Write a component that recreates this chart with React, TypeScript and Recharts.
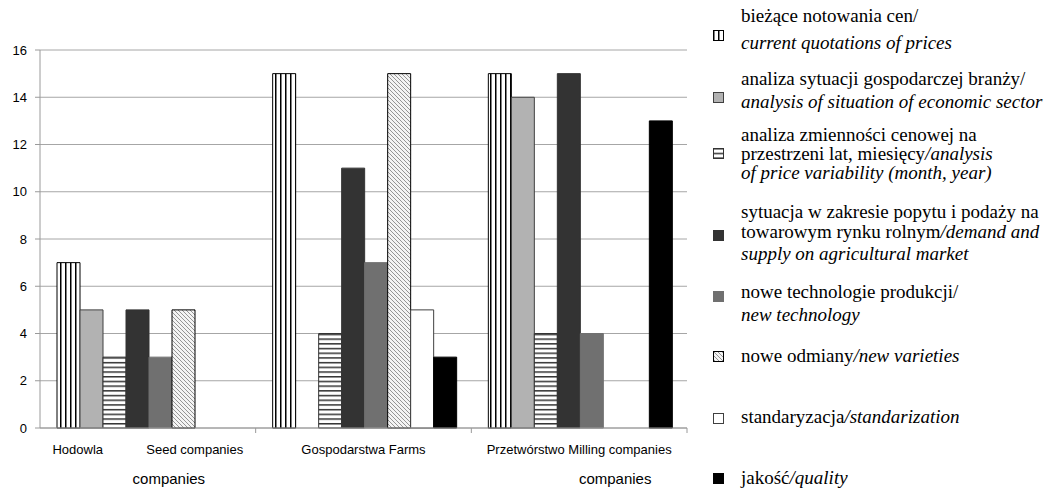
import { BarChart, Bar, XAxis, YAxis, CartesianGrid } from 'recharts';

// categories (tick label lines as printed under the axis)
const categories = ['Hodowla', 'Gospodarstwa', 'Przetwórstwo'];
const tickLine1 = ['Hodowla            Seed companies', 'Gospodarstwa Farms', 'Przetwórstwo Milling companies'];
const tickLine2 = ['companies', '', 'companies'];

// series values per category
const currentQuotations = [7, 15, 15];
const economicSector = [5, 0, 14];
const priceVariability = [3, 4, 4];
const demandSupply = [5, 11, 15];
const newTechnology = [3, 7, 4];
const newVarieties = [5, 15, 0];
const standarization = [0, 5, 0];
const quality = [0, 3, 13];

const yTicks = [0, 2, 4, 6, 8, 10, 12, 14, 16];

type Seg = { t: string; i?: boolean };
const legendLabels: Seg[][][] = [
    [[{ t: 'bieżące notowania cen/' }], [{ t: 'current quotations of prices', i: true }]],
    [[{ t: 'analiza sytuacji gospodarczej branży/' }], [{ t: 'analysis of situation of economic sector', i: true }]],
    [
        [{ t: 'analiza zmienności cenowej na' }],
        [{ t: 'przestrzeni lat, miesięcy' }, { t: '/analysis', i: true }],
        [{ t: 'of price variability (month, year)', i: true }],
    ],
    [
        [{ t: 'sytuacja w zakresie popytu i podaży na' }],
        [{ t: 'towarowym rynku rolnym' }, { t: '/demand and', i: true }],
        [{ t: 'supply on agricultural market', i: true }],
    ],
    [[{ t: 'nowe technologie produkcji/' }], [{ t: 'new technology', i: true }]],
    [[{ t: 'nowe odmiany' }, { t: '/new varieties', i: true }]],
    [[{ t: 'standaryzacja' }, { t: '/standarization', i: true }]],
    [[{ t: 'jakość' }, { t: '/quality', i: true }]],
];

const data = categories.map((cat, i) => ({
    cat,
    s1: currentQuotations[i],
    s2: economicSector[i],
    s3: priceVariability[i],
    s4: demandSupply[i],
    s5: newTechnology[i],
    s6: newVarieties[i],
    s7: standarization[i],
    s8: quality[i],
}));

// look of each series
const seriesStyle = [
    { key: 's1', fill: 'url(#pVert)', stroke: '#000' },
    { key: 's2', fill: '#b2b2b2', stroke: '#404040' },
    { key: 's3', fill: 'url(#pHoriz)', stroke: '#333' },
    { key: 's4', fill: '#333333', stroke: '#333333' },
    { key: 's5', fill: '#707070', stroke: '#707070' },
    { key: 's6', fill: 'url(#pDiag)', stroke: '#000' },
    { key: 's7', fill: '#ffffff', stroke: '#404040' },
    { key: 's8', fill: '#000000', stroke: '#000' },
];

// legend layout (vertical centres of icons and text lines)
const legendIconY = [35, 97, 153, 235, 296, 356, 418, 478];
const legendLineY = [[17, 44], [80, 103], [136, 155, 174], [213, 233, 255], [293, 316], [357], [418], [479]];

const CHART_W = 700;
const CHART_H = 488;
const PLOT_LEFT = 40;
const PLOT_RIGHT = 687;
const PLOT_TOP = 50;
const PLOT_BOTTOM = 428;
const AXIS_GRAY = '#9a9a9a';
const SANS = "'Liberation Sans', Arial, sans-serif";
const SERIF = "'Liberation Serif', 'Times New Roman', Times, serif";

const CategoryTick = ({ x, payload, index }: any) => {
    const bw = (PLOT_RIGHT - PLOT_LEFT) / categories.length;
    const i = index ?? categories.indexOf(payload.value);
    const dx2 = i === 0 ? 21 : 36;
    return (
        <g>
            <line x1={x + bw / 2} x2={x + bw / 2} y1={PLOT_BOTTOM} y2={PLOT_BOTTOM + 5} stroke={AXIS_GRAY} />
            <text x={x} y={454} textAnchor="middle" fontSize={13} fill="#000" style={{ whiteSpace: 'pre' }} fontFamily={SANS}>
                {tickLine1[i]}
            </text>
            {tickLine2[i] && (
                <text x={x + dx2} y={484} textAnchor="middle" fontSize={15} fill="#000" fontFamily={SANS}>
                    {tickLine2[i]}
                </text>
            )}
        </g>
    );
};

export default function App() {
    return (
        <div style={{ position: 'absolute', left: 0, top: 0, width: 1051, height: 488, background: '#fff' }}>
            <BarChart
                width={CHART_W}
                height={CHART_H}
                data={data}
                margin={{ top: PLOT_TOP, right: CHART_W - PLOT_RIGHT, left: 0, bottom: 0 }}
                barCategoryGap={17}
                barGap={0}
            >
                <defs>
                    <pattern id="pVert" width="5" height="10" patternUnits="userSpaceOnUse">
                        <rect width="5" height="10" fill="#fff" />
                        <rect x="0" width="1.5" height="10" fill="#000" />
                    </pattern>
                    <pattern id="pHoriz" width="10" height="4.7" patternUnits="userSpaceOnUse">
                        <rect width="10" height="4.7" fill="#fff" />
                        <rect y="0" width="10" height="1.5" fill="#333" />
                    </pattern>
                    <pattern id="pDiag" width="4" height="4" patternUnits="userSpaceOnUse">
                        <rect width="4" height="4" fill="#f4f4f4" />
                        <path d="M0,0 L4,4 M-1,3 L1,5 M3,-1 L5,1" stroke="#8a8a8a" strokeWidth="0.9" />
                    </pattern>
                </defs>
                <CartesianGrid vertical={false} stroke="#a6a6a6" />
                <XAxis
                    dataKey="cat"
                    height={CHART_H - PLOT_BOTTOM}
                    interval={0}
                    tickLine={false}
                    axisLine={{ stroke: AXIS_GRAY }}
                    tick={<CategoryTick />}
                />
                <YAxis
                    width={PLOT_LEFT}
                    domain={[0, 16]}
                    ticks={yTicks}
                    interval={0}
                    tickSize={5}
                    tickMargin={8}
                    axisLine={{ stroke: AXIS_GRAY }}
                    tickLine={{ stroke: AXIS_GRAY }}
                    tick={{ fill: '#000', fontSize: 13, fontFamily: SANS }}
                />
                {seriesStyle.map((s) => (
                    <Bar key={s.key} dataKey={s.key} fill={s.fill} stroke={s.stroke} strokeWidth={1} isAnimationActive={false} />
                ))}
            </BarChart>

            {legendLabels.map((lines, si) => (
                <div key={si}>
                    <svg width={11} height={11} style={{ position: 'absolute', left: 713, top: legendIconY[si] - 5 }}>
                        <rect x={0.5} y={0.5} width={10} height={10} fill={seriesStyle[si].fill}
                            stroke={seriesStyle[si].stroke} strokeWidth={1} />
                    </svg>
                    {lines.map((segs, li) => (
                        <div
                            key={li}
                            style={{
                                position: 'absolute',
                                left: 741,
                                top: legendLineY[si][li] - 12,
                                lineHeight: '22px',
                                fontSize: 19,
                                fontFamily: SERIF,
                                whiteSpace: 'nowrap',
                                color: '#000',
                            }}
                        >
                            {segs.map((g, gi) => (
                                <span key={gi} style={{ fontStyle: g.i ? 'italic' : 'normal' }}>{g.t}</span>
                            ))}
                        </div>
                    ))}
                </div>
            ))}
        </div>
    );
}
